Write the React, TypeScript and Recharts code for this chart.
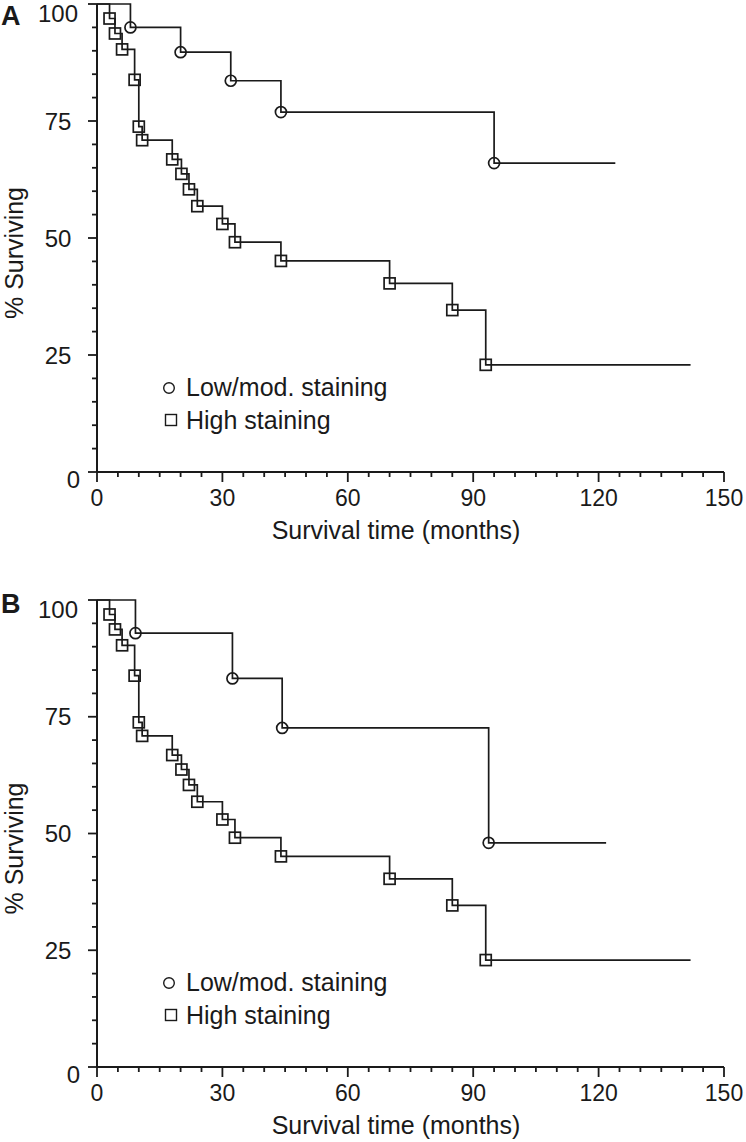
import { LineChart, Line, XAxis, YAxis } from 'recharts'

const FONT = '"Liberation Sans", Arial, Helvetica, sans-serif'
const INK = '#1a1a1a'

// high staining curve (same patients in both panels)
const HIGH_MONTHS = [0, 3, 4.3, 6, 9, 10, 10.8, 18, 20.2, 22, 24, 30, 33, 44, 70, 85, 93, 142]
const HIGH_SURV = [100, 96.9, 93.7, 90.3, 83.8, 73.8, 70.9, 66.8, 63.7, 60.4, 56.8, 53.0, 49.1, 45.1, 40.3, 34.6, 22.9, 22.9]

// low/moderate staining, panel A
const LOW_A_MONTHS = [0, 8, 20, 32, 44, 95, 124]
const LOW_A_SURV = [100, 95, 89.7, 83.6, 76.9, 66, 66]

// low/moderate staining, panel B
const LOW_B_MONTHS = [0, 9.2, 32.4, 44.3, 93.7, 121.8]
const LOW_B_SURV = [100, 92.9, 83.2, 72.6, 48, 48]

const X_MAJOR = [0, 30, 60, 90, 120, 150]
const Y_MAJOR = [0, 25, 50, 75, 100]
const X_TICKS = Array.from({ length: 31 }, (_, i) => i * 5)
const Y_TICKS = Array.from({ length: 21 }, (_, i) => i * 5)

const LEGEND = ['Low/mod. staining', 'High staining']
const X_TITLE = 'Survival time (months)'
const Y_TITLE = '% Surviving'

type Pt = { month: number; surv: number }

const toPoints = (t: number[], s: number[]): Pt[] => t.map((m, i) => ({ month: m, surv: s[i] }))

function XTick(props: any) {
  const { x, y, payload } = props
  const major = X_MAJOR.includes(payload.value)
  return (
    <g>
      <line x1={x} x2={x} y1={y} y2={y + (major ? 10 : 5)} stroke={INK} strokeWidth={1.8} />
      {major && (
        <text x={x} y={y + 34} textAnchor="middle" fontSize={23} fontFamily={FONT} fill={INK}>
          {payload.value}
        </text>
      )}
    </g>
  )
}

function YTick(props: any) {
  const { x, y, payload } = props
  const v = payload.value
  const major = Y_MAJOR.includes(v)
  // end labels sit a little lower than their ticks, as in the original
  const shift = v === 0 ? 7 : v === 100 ? 9.5 : 0
  return (
    <g>
      <line x1={x} x2={x - (major ? 9 : 5)} y1={y} y2={y} stroke={INK} strokeWidth={1.8} />
      {major && (
        <text
          x={v === 0 ? x - 17 : x - 39}
          y={y + shift + 8.6}
          textAnchor={v === 0 ? 'end' : 'middle'}
          fontSize={24}
          fontFamily={FONT}
          fill={INK}
        >
          {v}
        </text>
      )}
    </g>
  )
}

function makeDot(shape: 'circle' | 'square', n: number) {
  return (p: any) => {
    const { cx, cy, index } = p
    if (index === 0 || index === n - 1) return <g key={`d${index}`} />
    if (shape === 'circle')
      return <circle key={`d${index}`} cx={cx} cy={cy} r={5.5} fill="none" stroke={INK} strokeWidth={1.7} />
    return <rect key={`d${index}`} x={cx - 5.5} y={cy - 5.5} width={11} height={11} fill="none" stroke={INK} strokeWidth={1.7} />
  }
}

interface PanelProps {
  tag: string
  top: number
  marginTop: number
  xAxisHeight: number
  tagY: number
  lowMonths: number[]
  lowSurv: number[]
}

const W = 746
const H = 571
const PLOT_LEFT = 97

function Panel({ tag, top, marginTop, xAxisHeight, tagY, lowMonths, lowSurv }: PanelProps) {
  const low = toPoints(lowMonths, lowSurv)
  const high = toPoints(HIGH_MONTHS, HIGH_SURV)
  const plotTop = marginTop
  const plotBottom = H - xAxisHeight
  const midY = (plotTop + plotBottom) / 2

  return (
    <div style={{ position: 'absolute', left: 0, top, width: W, height: H }}>
      <LineChart width={W} height={H} margin={{ top: marginTop, right: 22, bottom: 0, left: 0 }}>
        <XAxis
          type="number"
          dataKey="month"
          domain={[0, 150]}
          ticks={X_TICKS}
          interval={0}
          height={xAxisHeight}
          tickSize={0}
          tickMargin={0}
          tickLine={false}
          tick={(p: any) => <XTick {...p} />}
          axisLine={{ stroke: INK, strokeWidth: 2 }}
        />
        <YAxis
          type="number"
          dataKey="surv"
          domain={[0, 100]}
          ticks={Y_TICKS}
          interval={0}
          width={PLOT_LEFT}
          tickSize={0}
          tickMargin={0}
          tickLine={false}
          tick={(p: any) => <YTick {...p} />}
          axisLine={{ stroke: INK, strokeWidth: 2 }}
        />
        <Line
          data={high}
          dataKey="surv"
          type="stepAfter"
          stroke={INK}
          strokeWidth={1.7}
          dot={makeDot('square', high.length)}
          activeDot={false}
          isAnimationActive={false}
        />
        <Line
          data={low}
          dataKey="surv"
          type="stepAfter"
          stroke={INK}
          strokeWidth={1.7}
          dot={makeDot('circle', low.length)}
          activeDot={false}
          isAnimationActive={false}
        />
      </LineChart>

      <svg
        width={W}
        height={H}
        style={{ position: 'absolute', left: 0, top: 0, pointerEvents: 'none' }}
        fontFamily={FONT}
        fill={INK}
      >
        <text x={1} y={tagY} fontSize={27} fontWeight="bold">
          {tag}
        </text>
        <text x={23} y={midY + 15} fontSize={25} textAnchor="middle" transform={`rotate(-90, 23, ${midY + 15})`}>
          {Y_TITLE}
        </text>
        <text x={396} y={plotBottom + 67} fontSize={25} textAnchor="middle">
          {X_TITLE}
        </text>
        <circle cx={169} cy={plotBottom - 84} r={5.3} fill="none" stroke={INK} strokeWidth={1.4} />
        <text x={186} y={plotBottom - 76} fontSize={25}>
          {LEGEND[0]}
        </text>
        <rect x={165.5} y={plotBottom - 57.5} width={11} height={11} fill="none" stroke={INK} strokeWidth={1.4} />
        <text x={186} y={plotBottom - 43} fontSize={25}>
          {LEGEND[1]}
        </text>
      </svg>
    </div>
  )
}

export default function App() {
  return (
    <div style={{ position: 'absolute', left: 0, top: 0, width: W, height: 1142, background: '#fff' }}>
      <Panel tag="A" top={0} marginTop={4} xAxisHeight={99} tagY={24.5} lowMonths={LOW_A_MONTHS} lowSurv={LOW_A_SURV} />
      <Panel tag="B" top={571} marginTop={29} xAxisHeight={75} tagY={42} lowMonths={LOW_B_MONTHS} lowSurv={LOW_B_SURV} />
    </div>
  )
}
